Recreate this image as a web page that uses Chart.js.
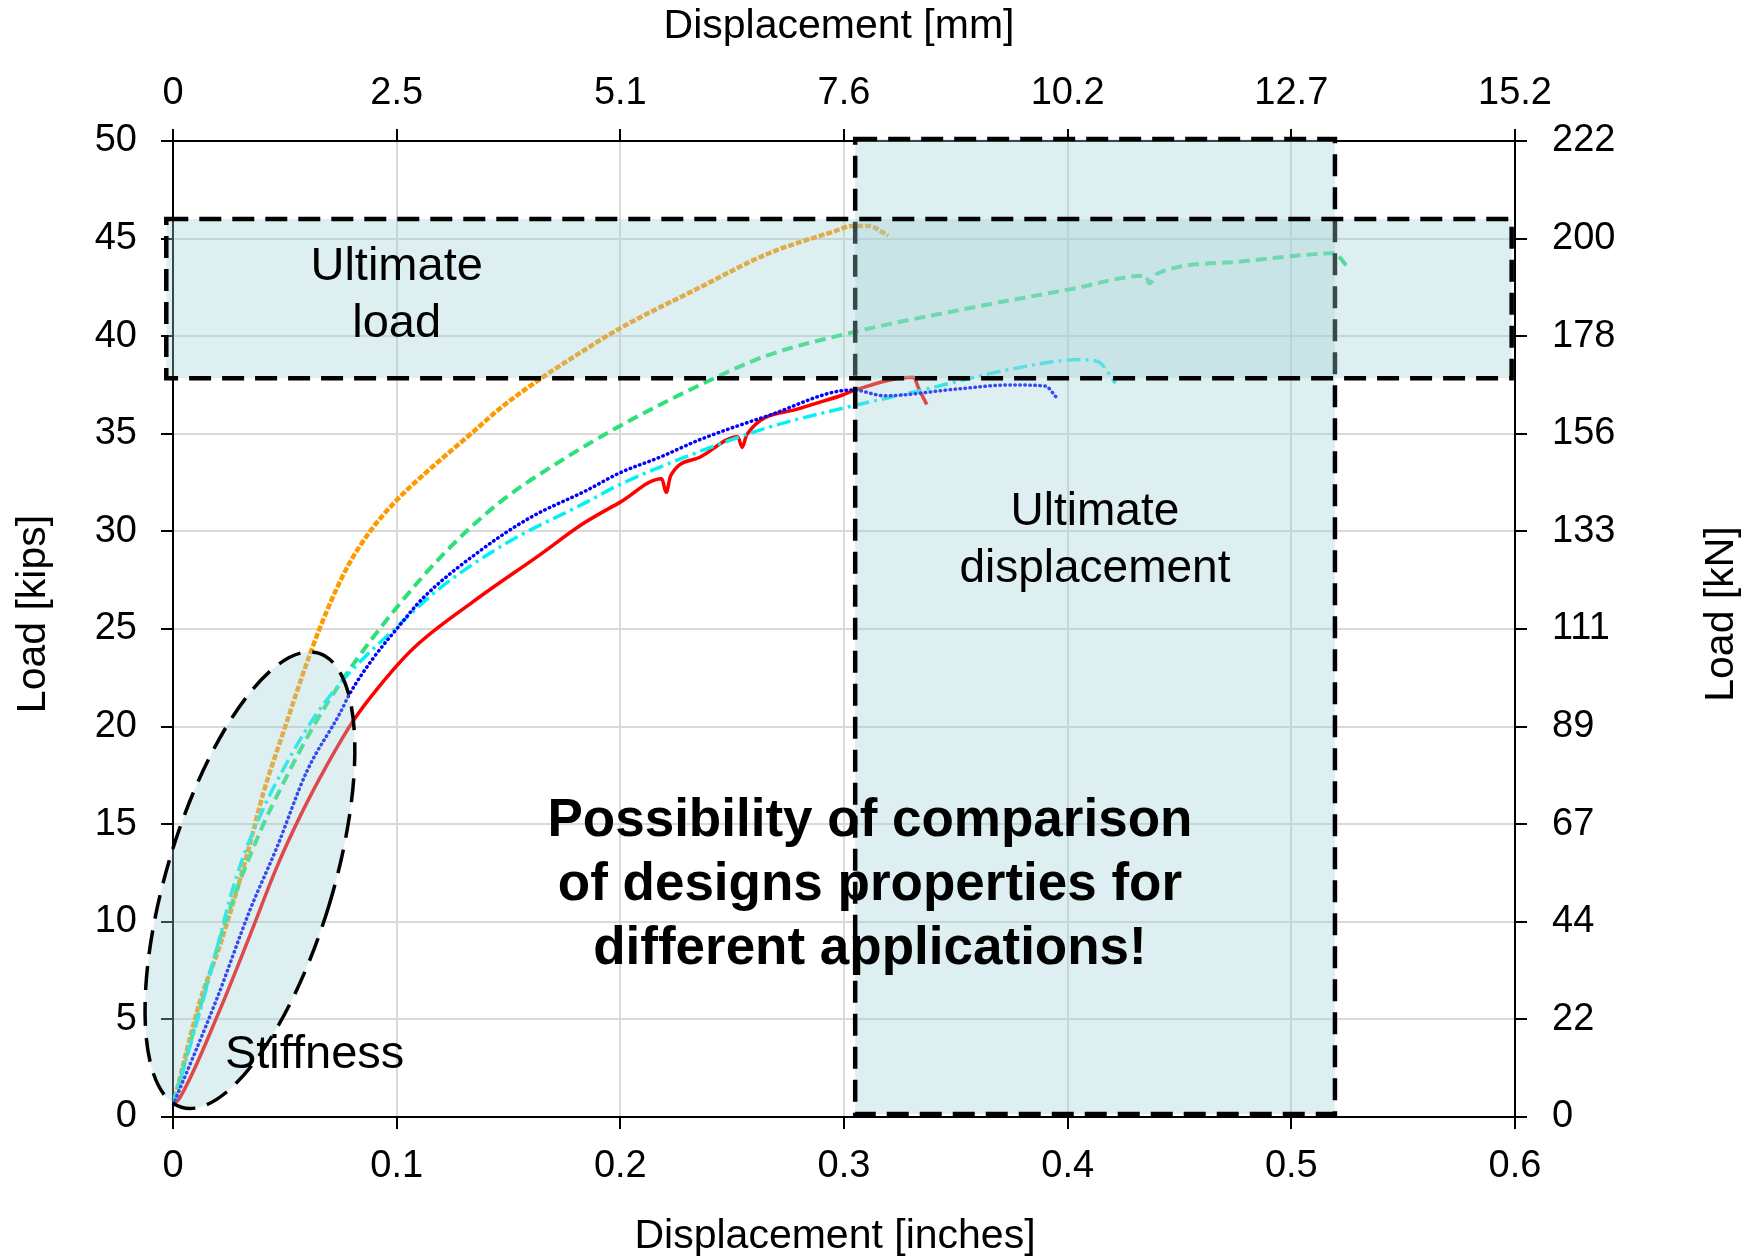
<!DOCTYPE html>
<html>
<head>
<meta charset="utf-8">
<script src="https://cdn.jsdelivr.net/npm/chart.js@4.4.0/dist/chart.umd.min.js"></script>
<style>
  html, body { margin: 0; padding: 0; background: #fff; }
  #wrap { width: 1752px; height: 1257px; }
</style>
</head>
<body>
<div id="wrap"><canvas id="chart" width="1752" height="1257"></canvas></div>
<script>
// tick labels (bottom/top share positions, left/right share positions)
const inchLabels = ['0', '0.1', '0.2', '0.3', '0.4', '0.5', '0.6'];
const mmLabels = ['0', '2.5', '5.1', '7.6', '10.2', '12.7', '15.2'];
const kipLabels = ['0', '5', '10', '15', '20', '25', '30', '35', '40', '45', '50'];
const knLabels = ['0', '22', '44', '67', '89', '111', '133', '156', '178', '200', '222'];

// load-displacement curves, [inches, kips]
const curveOrange = [[0, 0.6], [0.012, 5.9], [0.021, 8.8], [0.033, 13.4], [0.0404, 16.6], [0.0493, 19.7],
  [0.0612, 23.7], [0.0687, 25.9], [0.0776, 28.1], [0.0881, 30.0], [0.1, 31.6], [0.112, 32.9], [0.1342, 35.1],
  [0.1462, 36.3], [0.164, 37.8], [0.18, 39.0], [0.1998, 40.4], [0.2356, 42.5], [0.2654, 44.2], [0.2951, 45.35],
  [0.304, 45.65], [0.311, 45.65], [0.3198, 45.15]];
const curveGreen = [[0, 0.6], [0.0136, 6.2], [0.024, 10.2], [0.0389, 14.6], [0.0493, 17.1], [0.0627, 20.0],
  [0.0776, 22.7], [0.1, 26.1], [0.1223, 29.0], [0.1462, 31.5], [0.176, 33.8], [0.1998, 35.4], [0.2356, 37.5],
  [0.2654, 39.0], [0.304, 40.2], [0.3587, 41.5], [0.401, 42.4], [0.435, 43.1], [0.4365, 42.7], [0.44, 43.2],
  [0.4747, 43.8], [0.5, 44.1], [0.519, 44.25], [0.5248, 43.6]];
const curveCyan = [[0, 0.6], [0.0145, 6.4], [0.0286, 12.4], [0.0404, 15.8], [0.0507, 18.1], [0.0627, 20.4],
  [0.0761, 22.4], [0.1, 25.1], [0.1194, 27.1], [0.1491, 29.4], [0.1849, 31.5], [0.1998, 32.4], [0.2356, 34.1],
  [0.2654, 35.3], [0.3027, 36.4], [0.3335, 37.2], [0.3741, 38.3], [0.4057, 38.8], [0.4135, 38.7], [0.4214, 37.6]];
const curveBlue = [[0, 0.6], [0.0194, 6.0], [0.0344, 10.6], [0.0464, 13.8], [0.0598, 17.7], [0.0747, 20.7],
  [0.0791, 21.7], [0.0895, 23.5], [0.1, 25.0], [0.1119, 26.6], [0.1372, 29.0], [0.1596, 30.7], [0.1849, 32.1],
  [0.1998, 33.0], [0.2177, 33.8], [0.2356, 34.7], [0.2654, 35.9], [0.304, 37.25], [0.318, 36.95], [0.3508, 37.3],
  [0.374, 37.5], [0.39, 37.45], [0.3947, 36.9]];
const curveRed = [[0, 0.6], [0.0031, 1.0], [0.021, 5.5], [0.0344, 9.3], [0.0464, 12.8], [0.0568, 15.4],
  [0.0687, 18.0], [0.0806, 20.3], [0.0925, 22.1], [0.1074, 24.0], [0.1342, 26.4], [0.164, 28.8], [0.1834, 30.4],
  [0.2, 31.5], [0.2185, 32.7], [0.2205, 32.0], [0.2225, 32.85], [0.2356, 33.8], [0.2525, 34.85], [0.2545, 34.3],
  [0.2565, 34.95], [0.2803, 36.3], [0.2997, 37.0], [0.304, 37.2], [0.331, 37.9], [0.3335, 37.3], [0.337, 36.5]];

// highlighted regions (data units: inches / kips)
const loadBand = { x0: -0.003, x1: 0.5985, y0: 37.85, y1: 46.0 };
const dispBand = { x0: 0.305, x1: 0.5195, y0: 0.15, y1: 50.1 };
const stiffZone = { x: 0.0344, y: 12.13, rx: 4.25, ry: 12.15, tilt: 16.8 }; // radii in kips

const FONT = '"Liberation Sans", Arial, sans-serif';

const pts = arr => arr.map(p => ({ x: p[0], y: p[1] }));

const overlays = {
  id: 'overlays',
  afterDraw(chart) {
    const { ctx, chartArea, scales: { x, y } } = chart;
    const px = v => x.getPixelForValue(v);
    const py = v => y.getPixelForValue(v);
    const kip = py(0) - py(1);
    ctx.save();

    // shaded regions, drawn over the curves
    ctx.fillStyle = 'rgba(160,210,215,0.35)';
    ctx.strokeStyle = '#000';
    ctx.lineWidth = 4.5;
    ctx.setLineDash([22, 11]);
    [dispBand, loadBand].forEach(b => {
      const l = px(b.x0), r = px(b.x1), t = py(b.y1), bt = py(b.y0);
      ctx.fillRect(l, t, r - l, bt - t);
      ctx.strokeRect(l, t, r - l, bt - t);
    });

    ctx.beginPath();
    ctx.ellipse(px(stiffZone.x), py(stiffZone.y), stiffZone.rx * kip, stiffZone.ry * kip,
      stiffZone.tilt * Math.PI / 180, 0, Math.PI * 2);
    ctx.fill();
    ctx.lineWidth = 3.5;
    ctx.setLineDash([24, 12]);
    ctx.stroke();
    ctx.setLineDash([]);

    // labels
    ctx.fillStyle = '#000';
    ctx.textAlign = 'center';
    ctx.textBaseline = 'alphabetic';
    ctx.font = '47px ' + FONT;
    ctx.fillText('Ultimate', px(0.1), py(42.89));
    ctx.fillText('load', px(0.1), py(39.98));
    ctx.font = '46px ' + FONT;
    ctx.fillText('Ultimate', px(0.4122), py(30.32));
    ctx.fillText('displacement', px(0.4122), py(27.42));
    ctx.font = '47px ' + FONT;
    ctx.textAlign = 'left';
    ctx.fillText('Stiffness', px(0.0232), py(2.5));

    ctx.font = 'bold 53px ' + FONT;
    ctx.textAlign = 'center';
    [['Possibility of comparison', 14.4], ['of designs properties for', 11.1], ['different applications!', 7.85]]
      .forEach(([t, yy]) => ctx.fillText(t, px(0.3116), py(yy)));

    // axis titles
    ctx.font = '41px ' + FONT;
    ctx.textBaseline = 'middle';
    ctx.fillText('Displacement [mm]', 839, 27);
    ctx.fillText('Displacement [inches]', 835, 1237);
    const midY = (chartArea.top + chartArea.bottom) / 2 - 15;
    [['Load [kips]', 33.5], ['Load [kN]', chart.width - 30]].forEach(([t, xx]) => {
      ctx.save();
      ctx.translate(xx, midY);
      ctx.rotate(-Math.PI / 2);
      ctx.fillText(t, 0, 0);
      ctx.restore();
    });
    ctx.restore();
  }
};

const tickFont = { family: FONT, size: 38 };
const axisGrid = { color: '#D9D9D9', lineWidth: 2, tickColor: '#000', tickLength: 12, tickWidth: 2 };
const axisBorder = { display: true, color: '#000', width: 2 };

new Chart(document.getElementById('chart'), {
  type: 'line',
  data: {
    datasets: [
      { data: pts(curveBlue), borderColor: '#0000FF', borderWidth: 3.5, borderDash: [0.5, 4.5], borderCapStyle: 'round' },
      { data: pts(curveCyan), borderColor: '#00F2F2', borderWidth: 3.5, borderDash: [14, 5, 3, 5] },
      { data: pts(curveRed), borderColor: '#FF0000', borderWidth: 3.5 },
      { data: pts(curveGreen), borderColor: '#2EE07A', borderWidth: 4, borderDash: [11, 6] },
      { data: pts(curveOrange), borderColor: '#FF9900', borderWidth: 4.5, borderDash: [6, 2] }
    ]
  },
  options: {
    responsive: false,
    animation: false,
    devicePixelRatio: 1,
    layout: { padding: 0 },
    elements: { point: { radius: 0 }, line: { cubicInterpolationMode: 'monotone', fill: false } },
    plugins: { legend: { display: false }, tooltip: { enabled: false } },
    scales: {
      x: {
        type: 'linear', position: 'bottom', min: 0, max: 0.6,
        grid: axisGrid, border: axisBorder,
        ticks: { stepSize: 0.1, color: '#000', font: tickFont, padding: 15, maxRotation: 0,
          callback: (v, i) => inchLabels[i] },
        afterFit: s => { s.height = 140; }
      },
      x2: {
        type: 'linear', position: 'top', min: 0, max: 0.6,
        grid: { ...axisGrid, drawOnChartArea: false }, border: axisBorder,
        ticks: { stepSize: 0.1, color: '#000', font: tickFont, padding: 13, maxRotation: 0,
          callback: (v, i) => mmLabels[i] },
        afterFit: s => { s.height = 141; }
      },
      y: {
        type: 'linear', position: 'left', min: 0, max: 50,
        grid: axisGrid, border: axisBorder,
        ticks: { stepSize: 5, color: '#000', font: tickFont, padding: 24,
          callback: (v, i) => kipLabels[i] },
        afterFit: s => { s.width = 173; }
      },
      y2: {
        type: 'linear', position: 'right', min: 0, max: 50,
        grid: { ...axisGrid, drawOnChartArea: false }, border: axisBorder,
        ticks: { stepSize: 5, color: '#000', font: tickFont, padding: 25,
          callback: (v, i) => knLabels[i] },
        afterFit: s => { s.width = 237; }
      }
    }
  },
  plugins: [overlays]
});
</script>
</body>
</html>
